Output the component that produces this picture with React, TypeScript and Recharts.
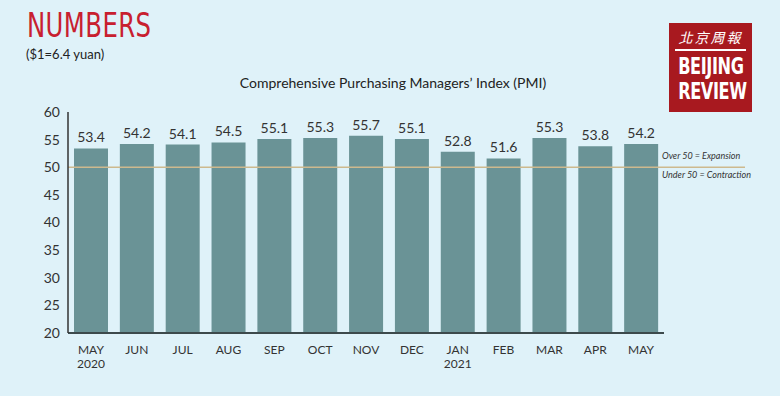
import { BarChart, Bar, XAxis, YAxis, ReferenceLine, LabelList } from 'recharts';

const months = ['MAY', 'JUN', 'JUL', 'AUG', 'SEP', 'OCT', 'NOV', 'DEC', 'JAN', 'FEB', 'MAR', 'APR', 'MAY'];
const years = ['2020', '', '', '', '', '', '', '', '2021', '', '', '', ''];
const pmi = [53.4, 54.2, 54.1, 54.5, 55.1, 55.3, 55.7, 55.1, 52.8, 51.6, 55.3, 53.8, 54.2];
const yTicks = [20, 25, 30, 35, 40, 45, 50, 55, 60];

const data = months.map((m, i) => ({ key: `${m}-${i}`, month: m, year: years[i], pmi: pmi[i] }));

const FONT = 'Lato, "Open Sans", sans-serif';

const MonthTick = ({ x, y, payload, index }: any) => {
  const d = data[payload.index ?? index];
  return (
    <g transform={`translate(${x},${y})`}>
      <text x={0} y={13} textAnchor="middle" fontSize={12} fill="#333" fontFamily={FONT}>{d.month}</text>
      {d.year && (
        <text x={0} y={27} textAnchor="middle" fontSize={12} fill="#333" fontFamily={FONT}>{d.year}</text>
      )}
    </g>
  );
};

// reference line runs past the plot to the notes on the right
const LongLine = (props: any) => {
  const { x1, y1, x2, y2 } = props;
  return (
    <g>
      <line x1={x1} y1={y1} x2={x2 + 81} y2={y2} stroke="#cdb98e" strokeWidth={1.5} />
      <text x={x2 - 2} y={y1 - 8} fontSize={9} fontStyle="italic" fill="#333" fontFamily={FONT}>Over 50 = Expansion</text>
      <text x={x2 - 2} y={y1 + 11} fontSize={9} fontStyle="italic" fill="#333" fontFamily={FONT}>Under 50 = Contraction</text>
    </g>
  );
};

export default function App() {
  return (
    <div style={{ position: 'fixed', left: 0, top: 0, width: 780, height: 396, background: '#dff2f9', overflow: 'hidden' }}>
      <div style={{ position: 'absolute', left: 27, top: 6, color: '#c8202f', fontSize: 33, fontFamily: '"Liberation Sans Narrow", "DejaVu Sans Condensed", sans-serif', transform: 'scaleX(0.82)', transformOrigin: 'left', letterSpacing: 0.5 }}>NUMBERS</div>
      <div style={{ position: 'absolute', left: 26, top: 46, fontSize: 13, color: '#222', fontFamily: FONT }}>($1=6.4 yuan)</div>
      <div style={{ position: 'absolute', left: 0, width: 786, top: 74, textAlign: 'center', fontSize: 14, color: '#222', fontFamily: FONT }}>
        Comprehensive Purchasing Managers’ Index (PMI)
      </div>
      <div style={{ position: 'absolute', left: 669, top: 23, width: 83, height: 89, background: '#a8191f', color: '#fff', textAlign: 'center', fontFamily: '"DejaVu Sans Condensed", "Liberation Sans Narrow", sans-serif' }}>
        <div style={{ fontSize: 14, fontStyle: 'italic', marginTop: 4, fontFamily: '"Noto Sans CJK TC", sans-serif', letterSpacing: 2 }}>北京周報</div>
        <div style={{ height: 2, background: '#fff', margin: '2px 6px 3px' }} />
        <div style={{ fontSize: 23, fontWeight: 'bold', lineHeight: '25px', transform: 'scaleX(0.78)', letterSpacing: -0.5 }}>BEIJING</div>
        <div style={{ fontSize: 23, fontWeight: 'bold', lineHeight: '25px', transform: 'scaleX(0.78)', letterSpacing: -0.5 }}>REVIEW</div>
      </div>
      <div style={{ position: 'absolute', left: 0, top: 0 }}>
        <BarChart width={780} height={396} data={data} margin={{ top: 112, right: 116, bottom: 33, left: 38 }} barCategoryGap={6}>
          <XAxis dataKey="key" tick={<MonthTick />} tickLine={false} axisLine={{ stroke: '#3d4a4c', strokeWidth: 2 }} interval={0} />
          <YAxis domain={[20, 60]} ticks={yTicks} width={30} tickLine={false} axisLine={{ stroke: '#333', strokeWidth: 1.5 }}
            tick={{ fontSize: 14, fill: '#333', fontFamily: FONT }} interval={0} />
          <Bar dataKey="pmi" fill="#6a9396" isAnimationActive={false}>
            <LabelList dataKey="pmi" position="top" offset={6} fontSize={14} fill="#333" fontFamily={FONT} formatter={(v: any) => Number(v).toFixed(1)} />
          </Bar>
          <ReferenceLine y={50} ifOverflow="visible" shape={<LongLine />} />
        </BarChart>
      </div>
    </div>
  );
}
